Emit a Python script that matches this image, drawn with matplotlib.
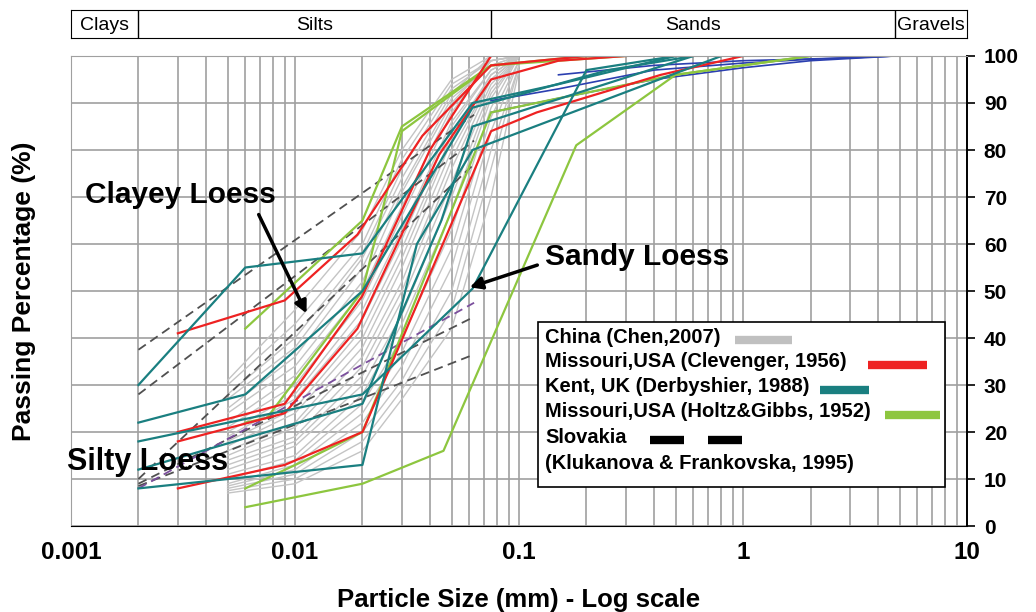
import matplotlib
matplotlib.use("Agg")
import matplotlib.pyplot as plt
from matplotlib.ticker import LogLocator, NullFormatter

plt.rcParams["font.family"] = ["Liberation Sans", "DejaVu Sans"]
plt.rcParams["font.weight"] = "bold"

# China (Chen, 2007) - grey band, common sieve sizes
chen_x = [0.005, 0.01, 0.02, 0.03, 0.05, 0.075, 0.1]
chen_y = [
    [31, 46, 63, 80, 95, 100, 100],
    [30, 43, 60, 78, 94, 99, 100],
    [28, 40, 58, 76, 93, 99, 100],
    [27, 38, 57, 74, 92, 100, 100],
    [25, 36, 55, 72, 91, 98, 100],
    [24, 34, 52, 71, 90, 99, 100],
    [22, 32, 50, 68, 89, 98, 100],
    [21, 30, 48, 66, 88, 99, 100],
    [20, 28, 46, 63, 86, 97, 100],
    [19, 27, 44, 61, 85, 97, 100],
    [18, 25, 42, 59, 83, 96, 100],
    [17, 24, 40, 57, 82, 96, 100],
    [16, 22, 38, 55, 80, 95, 100],
    [15, 21, 36, 52, 78, 95, 100],
    [14, 19, 34, 50, 76, 94, 100],
    [13, 18, 32, 48, 73, 93, 100],
    [12, 17, 30, 45, 70, 92, 100],
    [11, 15, 28, 43, 67, 91, 100],
    [10, 14, 26, 40, 63, 89, 100],
    [9, 13, 24, 37, 59, 87, 99],
    [8.5, 12, 22, 34, 55, 84, 99],
    [8, 11, 20, 31, 50, 80, 98],
    [7.5, 10, 18, 29, 46, 76, 98],
    [7, 9, 16, 27, 42, 70, 97],
]

# Missouri, USA (Clevenger, 1956)
clev_x = [
    [0.003, 0.009, 0.019, 0.037, 0.075, 0.2],
    [0.003, 0.009, 0.02, 0.04, 0.075],
    [0.003, 0.009, 0.019, 0.044, 0.075, 0.15, 0.3],
    [0.003, 0.009, 0.02, 0.075, 0.12, 0.43, 1.0],
]
clev_y = [
    [41, 48, 62, 83, 98, 100],
    [20, 26, 49, 80, 100],
    [18, 24, 42, 79, 95, 99, 100],
    [8, 13, 20, 84, 88, 96, 100],
]

# Kent, UK (Derbyshire, 1988)
kent_x = [
    [0.002, 0.006, 0.02, 0.062, 0.15, 0.5],
    [0.002, 0.006, 0.02, 0.062, 0.25, 0.6],
    [0.002, 0.02, 0.062, 0.2, 0.5],
    [0.002, 0.02, 0.045, 0.062, 0.6],
    [0.002, 0.02, 0.035, 0.062, 0.8],
]
kent_y = [
    [30, 55, 58, 90, 94, 100],
    [22, 28, 50, 89, 97, 100],
    [18, 28, 50.5, 97, 100],
    [12, 26, 65, 85, 100],
    [8, 13, 60, 80, 100],
]

# Missouri, USA (Holtz & Gibbs, 1952)
holtz_x = [
    [0.006, 0.02, 0.03, 0.075, 0.3],
    [0.006, 0.0075, 0.02, 0.03, 0.075, 0.2],
    [0.006, 0.0117, 0.02, 0.075, 0.15, 0.5, 2.0],
    [0.006, 0.02, 0.046, 0.18, 0.5, 2.0],
]
holtz_y = [
    [42, 65, 85, 98, 100],
    [22, 23, 50, 84, 98, 100],
    [8, 14.5, 20, 88, 91, 96, 100],
    [4, 9, 16, 81, 96, 100],
]

# Slovakia (Klukanova & Frankovska, 1995)
slov_x = [0.002, 0.063]
slov_y = [
    [37.5, 87.5],
    [28, 82],
    [10, 77],
    [9, 44.5],
    [8.5, 36.5],
]
slov_purple_y = [8, 47.5]

# additional sandy curves (blue)
blue_x = [
    [0.075, 0.15, 0.4, 1.0, 2.0, 4.75],
    [0.075, 0.15, 0.4, 1.0, 2.0, 4.75],
    [0.15, 0.4, 1.0, 2.5, 4.75],
]
blue_y = [
    [90.5, 93, 97, 98.5, 99.3, 100],
    [88, 91, 95, 97.5, 99, 100],
    [96, 98, 99, 99.5, 100],
]

bands = ["Clays", "Silts", "Sands", "Gravels"]
band_edges = [0.001, 0.002, 0.075, 4.75, 10]

fig = plt.figure(figsize=(10.36, 6.12), dpi=100)
ax = fig.add_axes([0.0685, 0.1405, 0.865, 0.768])

for ys in chen_y:
    ax.plot(chen_x, ys, color="#c4c4c4", lw=1.0)
for xs, ys in zip(blue_x, blue_y):
    ax.plot(xs, ys, color="#2b3fb0", lw=1.2)
for ys in slov_y:
    ax.plot(slov_x, ys, color="#505050", lw=1.3, dashes=(5, 3))
ax.plot(slov_x, slov_purple_y, color="#7b4f9d", lw=1.3, dashes=(5, 3))
for xs, ys in zip(holtz_x, holtz_y):
    ax.plot(xs, ys, color="#8dc63f", lw=1.6)
for xs, ys in zip(clev_x, clev_y):
    ax.plot(xs, ys, color="#ee2222", lw=1.6)
for xs, ys in zip(kent_x, kent_y):
    ax.plot(xs, ys, color="#1a7f80", lw=1.6)

ax.set_xscale("log")
ax.set_xlim(0.001, 10)
ax.set_ylim(0, 100)
ax.set_yticks(range(0, 101, 10))
ax.set_xticks([0.001, 0.01, 0.1, 1, 10], labels=["0.001", "0.01", "0.1", "1", "10"])
ax.xaxis.set_minor_locator(LogLocator(base=10, subs=range(2, 10)))
ax.xaxis.set_minor_formatter(NullFormatter())
ax.grid(which="both", axis="x", color="#a0a0a0", lw=1.2)
ax.grid(which="major", axis="y", color="#a0a0a0", lw=1.2)
ax.set_axisbelow(True)

ax.yaxis.tick_right()
ax.yaxis.set_label_position("left")
ax.tick_params(axis="x", which="both", length=0, pad=11, labelsize=17.5)
ax.tick_params(axis="y", direction="out", length=6, width=1.2, pad=6, labelsize=15)
ax.spines["left"].set_color("#a0a0a0")
ax.spines["top"].set_color("#a0a0a0")
ax.spines["right"].set_linewidth(1.4)
ax.set_xlabel("Particle Size (mm) - Log scale", fontsize=18.5, fontweight="bold", labelpad=17)
ax.set_ylabel("Passing Percentage (%)", fontsize=19, fontweight="bold", labelpad=25)

# annotations
ax.text(0.00115, 70.4, "Clayey Loess", fontsize=21.5, va="center", ha="left")
ax.annotate("", xy=(0.0114, 44.7), xytext=(0.0068, 66.8),
            arrowprops=dict(arrowstyle="-|>", lw=2.5, color="black", mutation_scale=18))
ax.text(0.1306, 57.2, "Sandy Loess", fontsize=21.5, va="center", ha="left")
ax.annotate("", xy=(0.0586, 50.6), xytext=(0.124, 55.7),
            arrowprops=dict(arrowstyle="-|>", lw=2.5, color="black", mutation_scale=18))
ax.text(0.00096, 13.6, "Silty Loess", fontsize=22, va="center", ha="left")

# legend box drawn by hand
ax.add_patch(plt.Rectangle((0.521, 0.083), 0.454, 0.351, transform=ax.transAxes,
                           facecolor="white", edgecolor="black", lw=1.2, zorder=5))
legend_rows = [
    ("China (Chen,2007)", 0.402, [(0.741, 0.805)], "#c0c0c0"),
    ("Missouri,USA (Clevenger, 1956)", 0.349, [(0.889, 0.955)], "#ee2222"),
    ("Kent, UK (Derbyshier, 1988)", 0.296, [(0.836, 0.891)], "#1a7f80"),
    ("Missouri,USA (Holtz&Gibbs, 1952)", 0.243, [(0.908, 0.970)], "#8dc63f"),
    ("Slovakia", 0.189, [(0.646, 0.684), (0.711, 0.749)], "black"),
    ("(Klukanova & Frankovska, 1995)", 0.134, [], None),
]
for label, yy, segs, col in legend_rows:
    ax.text(0.529, yy, label, transform=ax.transAxes, fontsize=14.5,
            va="center", ha="left", zorder=6)
    for x0, x1 in segs:
        ax.plot([x0, x1], [yy - 0.006, yy - 0.006], transform=ax.transAxes, color=col,
                lw=6, solid_capstyle="butt", zorder=6)

# soil classes band
band = fig.add_axes([0.0685, 0.9379, 0.865, 0.0458])
band.set_xscale("log")
band.set_xlim(0.001, 10)
band.set_ylim(0, 1)
band.set_xticks([])
band.set_yticks([])
band.minorticks_off()
for e in band_edges[1:-1]:
    band.axvline(e, color="black", lw=1)
for name, lo, hi in zip(bands, band_edges[:-1], band_edges[1:]):
    band.text((lo * hi) ** 0.5, 0.45, name, ha="center", va="center",
              fontsize=14, fontweight="normal")

fig.savefig("out.png", dpi=100)
